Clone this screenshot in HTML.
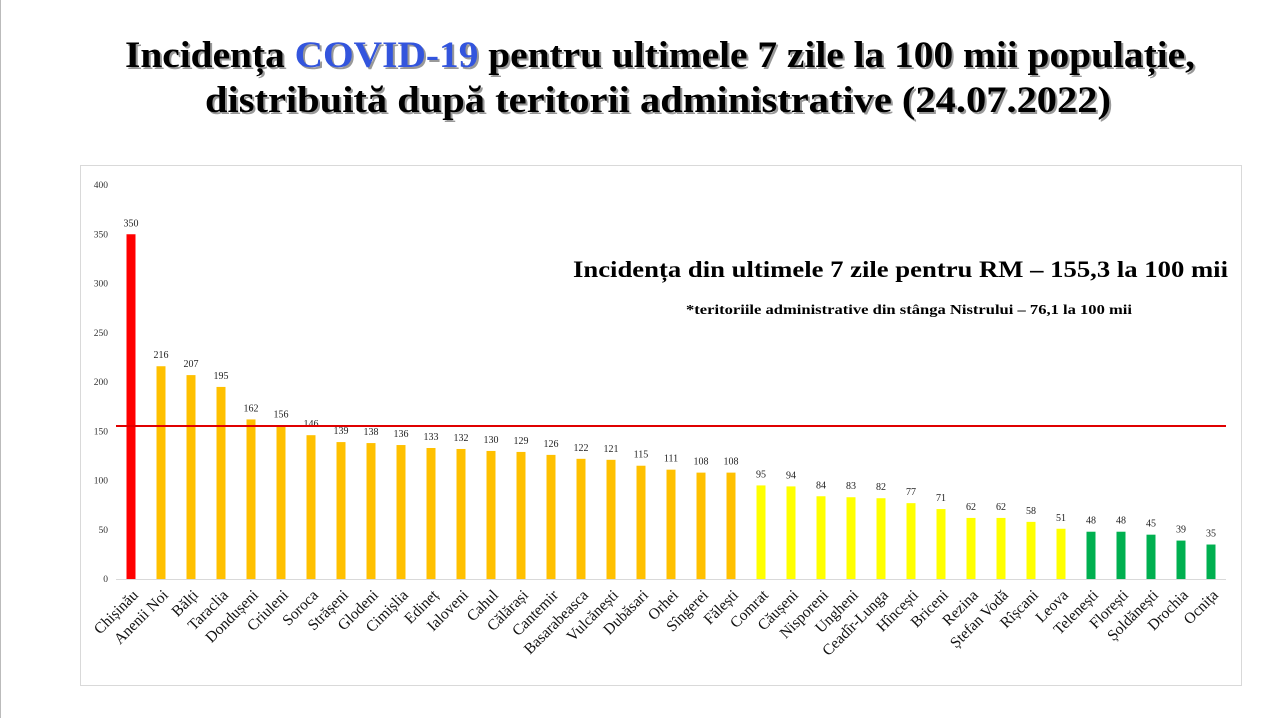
<!DOCTYPE html>
<html><head><meta charset="utf-8"><style>
html,body{margin:0;padding:0;background:#fff;}
svg{display:block;}
</style></head><body>
<svg id="chart" width="1278" height="718" xmlns="http://www.w3.org/2000/svg" font-family="'Liberation Serif', serif">
<rect x="0" y="0" width="1278" height="718" fill="#fff"/>
<line x1="0.5" y1="0" x2="0.5" y2="718" stroke="#bbb"/>
<g font-weight="bold" font-size="37">
<text x="127" y="69" fill="#999" textLength="1070" lengthAdjust="spacingAndGlyphs">Incidența COVID-19 pentru ultimele 7 zile la 100 mii populație,</text>
<text x="125" y="67" fill="#000" textLength="1070" lengthAdjust="spacingAndGlyphs">Incidența <tspan fill="#3355dd">COVID-19</tspan> pentru ultimele 7 zile la 100 mii populație,</text>
<text x="207" y="114" fill="#999" textLength="906" lengthAdjust="spacingAndGlyphs">distribuită după teritorii  administrative (24.07.2022)</text>
<text x="205" y="112" fill="#000" textLength="906" lengthAdjust="spacingAndGlyphs">distribuită după teritorii  administrative (24.07.2022)</text>
</g>
<rect x="80.5" y="165.5" width="1161" height="520" fill="none" stroke="#d9d9d9"/>
<g id="yaxis"></g>
<g id="bars"></g>
<g id="xlabels"></g>
<text x="1228" y="277" text-anchor="end" font-weight="bold" font-size="23" textLength="655" lengthAdjust="spacingAndGlyphs">Incidența din ultimele 7 zile pentru RM – 155,3 la 100 mii</text>
<text x="686" y="314" font-weight="bold" font-size="14" textLength="446" lengthAdjust="spacingAndGlyphs">*teritoriile administrative din stânga Nistrului – 76,1 la 100 mii</text>
</svg>
<script>
const categories=["Chișinău","Anenii Noi","Bălți","Taraclia","Dondușeni","Criuleni","Soroca","Strășeni","Glodeni","Cimișlia","Edineț","Ialoveni","Cahul","Călărași","Cantemir","Basarabeasca","Vulcănești","Dubăsari","Orhei","Sîngerei","Fălești","Comrat","Căușeni","Nisporeni","Ungheni","Ceadîr-Lunga","Hîncești","Briceni","Rezina","Ștefan Vodă","Rîșcani","Leova","Telenești","Florești","Șoldănești","Drochia","Ocnița"];
const values=[350,216,207,195,162,156,146,139,138,136,133,132,130,129,126,122,121,115,111,108,108,95,94,84,83,82,77,71,62,62,58,51,48,48,45,39,35];
const barColors=["#ff0000","#ffc000","#ffc000","#ffc000","#ffc000","#ffc000","#ffc000","#ffc000","#ffc000","#ffc000","#ffc000","#ffc000","#ffc000","#ffc000","#ffc000","#ffc000","#ffc000","#ffc000","#ffc000","#ffc000","#ffc000","#ffff00","#ffff00","#ffff00","#ffff00","#ffff00","#ffff00","#ffff00","#ffff00","#ffff00","#ffff00","#ffff00","#00b050","#00b050","#00b050","#00b050","#00b050"];
const yTicks=[0,50,100,150,200,250,300,350,400];
const rmAverage=155.3;
const NS="http://www.w3.org/2000/svg";
const x0=116,x1=1226,yBase=579,yTop=185,yMax=400;
const band=(x1-x0)/categories.length;
function xPos(i){return x0+band*(i+0.5);}
function yPos(v){return yBase-(v/yMax)*(yBase-yTop);}
function mk(tag,attrs,parent){const e=document.createElementNS(NS,tag);for(const k in attrs)e.setAttribute(k,attrs[k]);parent.appendChild(e);return e;}
const ya=document.getElementById('yaxis'),bg=document.getElementById('bars'),xl=document.getElementById('xlabels');
yTicks.forEach(t=>{
  const tx=mk('text',{x:108,y:yPos(t)+3,'text-anchor':'end','font-size':'9.5',fill:'#333'},ya);
  tx.textContent=t;
  
  
});
const base=mk('line',{x1:x0,y1:yBase+0.5,x2:x1,y2:yBase+0.5,stroke:'#d9d9d9','stroke-width':1},ya);


values.forEach((v,i)=>{
  const cx=xPos(i),w=9;
  const r=mk('rect',{x:cx-w/2,y:yPos(v),width:w,height:yBase-yPos(v),fill:barColors[i]},bg);
  
  
  const t=mk('text',{x:cx,y:yPos(v)-8,'text-anchor':'middle','font-size':'10',fill:'#222'},bg);
  t.textContent=v;
  
  
  const l=mk('text',{x:0,y:0,'text-anchor':'end','font-size':'15.5',fill:'#111',transform:`translate(${cx+8},${yBase+17}) rotate(-45)`},xl);
  l.textContent=categories[i];
  
  
});
const ref=mk('line',{x1:x0,y1:yPos(rmAverage),x2:x1,y2:yPos(rmAverage),stroke:'#e00000','stroke-width':2},bg);


</script>
</body></html>
